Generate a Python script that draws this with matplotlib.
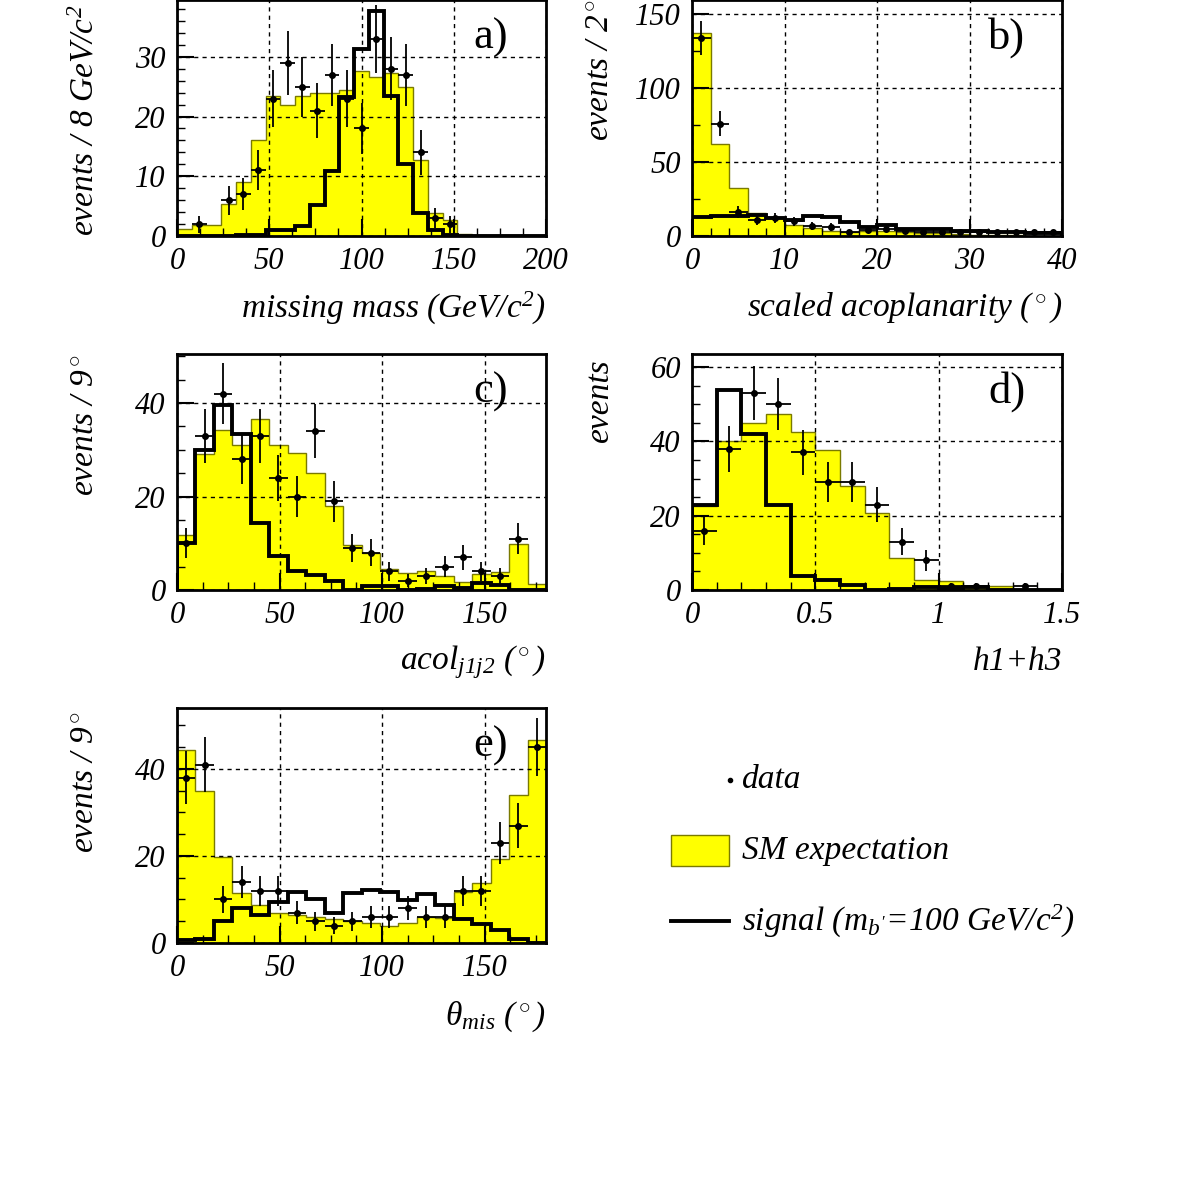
import numpy as np
import matplotlib
matplotlib.use("Agg")
import matplotlib.pyplot as plt
from matplotlib.patches import Rectangle
from matplotlib.lines import Line2D

plt.rcParams['font.family'] = ['Liberation Serif', 'DejaVu Serif']
plt.rcParams['font.style'] = 'italic'
plt.rcParams['mathtext.fontset'] = 'custom'
plt.rcParams['mathtext.rm'] = 'Liberation Serif'
plt.rcParams['mathtext.it'] = 'Liberation Serif:italic'

# ---- data ----
a_edges = np.arange(0, 201, 8)
a_bg = [1.2,1.8,1.8,5.4,9,16,23.4,22,23.4,23.9,23.9,24.4,27.6,26.6,27.3,25,12.7,3.8,2.7,0.4,0.1,0,0,0,0]
a_sig = [0,0,0,0,0.1,0.1,1,1,1.7,5.2,10.8,23.2,31.3,37.6,23.5,12,3.9,1,0.2,0,0,0,0,0,0]
a_data = [0,2,0,6,7,11,23,29,25,21,27,23,18,33,28,27,14,3,2,0,0,0,0,0,0]

b_edges = np.arange(0, 41, 2)
b_bg = [137,62,32.6,15.6,12,7.3,5.4,3.6,2.7,3.6,3.2,2.7,2,2,1.4,0.9,0.5,0.5,0.3,0.3]
b_sig = [12.7,13.8,13.4,14.5,12.2,11,13.8,12.7,9.5,5.9,7.7,4.8,4.8,4.8,3.6,3.2,2.7,2.5,2.3,2.0]
b_data = [134,76,16,11,12,10,7,6,2.5,4,5,3.6,3,3,3,3,2.5,2.5,2.5,2.5]

c_edges = np.arange(0, 181, 9)
c_bg = [11.8,29.1,34.3,31.1,36.6,31,29.4,25,18,9.6,8,4.4,3.6,4,3,1.8,3.4,3.9,9.9,1.3]
c_sig = [10,29.9,39.5,33.3,14.4,7.2,4.1,3.3,1.9,0.1,0.8,0.8,0.1,0.3,0.8,0.4,1.4,1.1,0.1,0]
c_data = [10,33,42,28,33,24,20,34,19,9,8,4,2,3,5,7,4,3,11,0]

d_edges = np.round(np.arange(0, 1.51, 0.1), 2)
d_bg = [22.6,40.2,45,47.3,42.6,37.7,28.1,20.8,8.6,2.7,2.5,1.2,1.2,0.3,0]
d_sig = [23,53.7,42,22.8,3.7,2.8,1.4,0.1,0.3,0.7,0.5,0.7,0.1,0.1,0]
d_data = [16,38,53,50,37,29,29,23,13,8,1,1,0,1,0]

e_edges = np.arange(0, 181, 9)
e_bg = [44.4,34.9,19.8,11.6,8.8,6.9,6.5,6,5.5,5,4.6,3.8,4.6,6,5.7,11.8,13.9,19.2,34.1,46.6]
e_sig = [0.8,1,5,8,6.5,9.5,11.7,10.2,6.9,11.6,12.2,11.8,9.9,11.3,8.8,5.6,4.4,3,0.9,0]
e_data = [38,41,10,14,12,12,7,5,4,5,6,6,8,6,6,12,12,23,27,45]

W, H = 1181, 1181
fig = plt.figure(figsize=(11.81, 11.81), dpi=100)

def ax_at(x0, x1, y0, y1):
    return fig.add_axes([x0 / W, 1 - y1 / H, (x1 - x0) / W, (y1 - y0) / H])

def panel(ax, edges, bg, sig, data, xlim, ylim, xticks, yticks, xminor, yminor, letter):
    edges = np.asarray(edges, float)
    ax.stairs(bg, edges, fill=True, facecolor='#ffff00', edgecolor='none', zorder=1)
    ax.stairs(bg, edges, color='#7a7a00', lw=1.0, zorder=2)
    ax.stairs(sig, edges, color='black', lw=2.8, zorder=4)
    d = np.asarray(data, float)
    cen = 0.5 * (edges[:-1] + edges[1:])
    hw = 0.5 * (edges[1:] - edges[:-1])
    m = d > 0
    ax.errorbar(cen[m], d[m], xerr=hw[m], yerr=np.sqrt(d[m]), fmt='o', ms=4,
                color='black', ecolor='black', elinewidth=1.3, capsize=0, zorder=5)
    ax.set_xlim(*xlim)
    ax.set_ylim(*ylim)
    ax.set_xticks(xticks)
    ax.set_yticks(yticks)
    ax.set_xticks(xminor, minor=True)
    ax.set_yticks(yminor, minor=True)
    ax.grid(True, which='major', color='black', ls=(0, (3, 3)), lw=1.0, zorder=3)
    ax.set_axisbelow(False)
    ax.tick_params(which='both', direction='in', labelsize=22, pad=8)
    ax.tick_params(which='major', length=12, width=1.5)
    ax.tick_params(which='minor', length=6, width=1.0)
    for s in ax.spines.values():
        s.set_linewidth(2)
        s.set_zorder(6)
    ax.text(0.85, 0.84, letter, transform=ax.transAxes, fontsize=32, style='normal',
            ha='center', va='center', zorder=7)

axa = ax_at(177, 546, 0, 236)
panel(axa, a_edges, a_bg, a_sig, a_data, (0, 200), (0, 39.5), [0, 50, 100, 150, 200],
      [0, 10, 20, 30], np.arange(0, 201, 12.5), np.arange(0, 40, 2), 'a)')
axa.set_xticklabels(['0', '50', '100', '150', '200'])
axb = ax_at(692, 1062, 0, 236)
panel(axb, b_edges, b_bg, b_sig, b_data, (0, 40), (0, 159.5), [0, 10, 20, 30, 40],
      [0, 50, 100, 150], np.arange(0, 41, 2), np.arange(0, 160, 25), 'b)')
axc = ax_at(177, 546, 354, 590)
panel(axc, c_edges, c_bg, c_sig, c_data, (0, 180), (0, 50.5), [0, 50, 100, 150],
      [0, 20, 40], np.arange(0, 181, 12.5), np.arange(0, 51, 5), 'c)')
axd = ax_at(692, 1062, 354, 590)
panel(axd, d_edges, d_bg, d_sig, d_data, (0, 1.5), (0, 63.5), [0, 0.5, 1, 1.5],
      [0, 20, 40, 60], np.arange(0, 1.51, 0.1), np.arange(0, 64, 5), 'd)')
axd.set_xticklabels(['0', '0.5', '1', '1.5'])
axe = ax_at(177, 546, 708, 943)
panel(axe, e_edges, e_bg, e_sig, e_data, (0, 180), (0, 54), [0, 50, 100, 150],
      [0, 20, 40], np.arange(0, 181, 12.5), np.arange(0, 54, 5), 'e)')

fs = 24
def xlab(ax, s, ypx):
    x1 = ax.get_position().x1
    fig.text(x1, 1 - ypx / H, s, ha='right', va='center', fontsize=fs)
def ylab(x, ycen, s):
    fig.text(x / W, 1 - ycen / H, s, rotation=90, ha='center', va='center', fontsize=fs)

xlab(axa, r'missing mass (GeV/c$^2$)', 308)
xlab(axb, r'scaled acoplanarity ($^\circ$)', 308)
xlab(axc, r'acol$_{j1j2}$ ($^\circ$)', 662)
xlab(axd, r'h1+h3', 662)
xlab(axe, r'$\mathrm{\theta}_{mis}$ ($^\circ$)', 1017)
ylab(85, 120, r'events / 8 GeV/c$^2$')
ylab(600, 70, r'events / 2$^\circ$')
ylab(85, 425, r'events / 9$^\circ$')
ylab(600, 400, r'events')
ylab(85, 782, r'events / 9$^\circ$')

# legend
fig.add_artist(Line2D([730 / W], [1 - 780 / H], marker='o', ms=3, color='black', lw=0))
fig.text(742 / W, 1 - 780 / H, 'data', fontsize=fs, va='center')
fig.add_artist(Rectangle((671 / W, 1 - 866 / H), 58 / W, 31 / H, facecolor='#ffff00',
                         edgecolor='#7a7a00', lw=1))
fig.text(742 / W, 1 - 851 / H, 'SM expectation', fontsize=fs, va='center')
fig.add_artist(Line2D([671 / W, 729 / W], [1 - 921 / H] * 2, color='black', lw=2.8))
fig.text(742 / W, 1 - 921 / H, r"signal (m$_{b'}$=100 GeV/c$^2$)", fontsize=fs, va='center')

fig.savefig('out.png', dpi=100, facecolor='white')
